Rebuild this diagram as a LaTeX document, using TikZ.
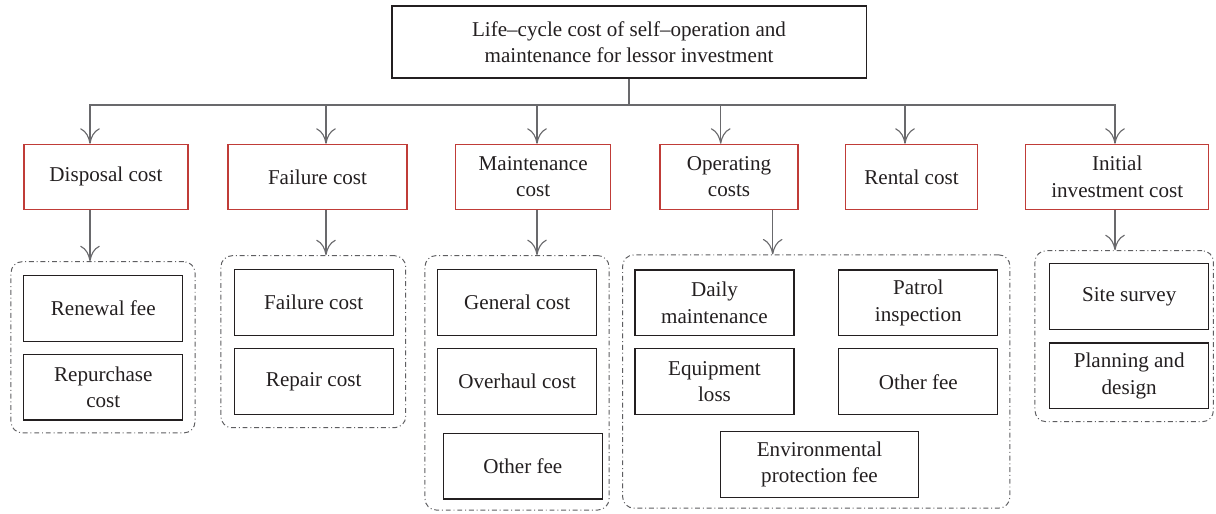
\documentclass[tikz,border=0pt]{standalone}
\usepackage{fontspec}
\setmainfont{Liberation Serif}
\usetikzlibrary{arrows.meta}
\definecolor{boxred}{RGB}{192,60,56}
\definecolor{linkgray}{RGB}{105,105,108}
\definecolor{textgray}{RGB}{35,31,32}
\tikzstyle{every node}=[font=\fontsize{15}{18.8}\selectfont, text=textgray, align=center]
\tikzstyle{root}=[draw=textgray, line width=0.8pt, minimum width=11.85cm, minimum height=1.8cm]
\tikzstyle{cost}=[draw=boxred, line width=0.8pt, minimum height=1.625cm, inner sep=2pt]
\tikzstyle{item}=[draw=textgray, line width=0.8pt, minimum width=3.975cm, minimum height=1.64cm, inner sep=2pt]
\tikzstyle{group}=[draw=linkgray!90!black, line width=0.7pt, rounded corners=8pt,
  dash pattern=on 3.5pt off 2pt on 0.7pt off 2pt]
\tikzstyle{link}=[draw=linkgray, line width=0.8pt]
\tikzstyle{arrowlink}=[link, -{Computer Modern Rightarrow[length=11pt,width=14pt]}]

\begin{document}
\begin{tikzpicture}[x=0.025cm, y=-0.025cm]
      \useasboundingbox (0,0) rectangle (1216,513);

      % top of the tree
      \node[root] (life) at (629, 42) {Life--cycle cost of self--operation and\\maintenance for lessor investment};
      \coordinate (bus) at (629, 105);

      % cost items
      \node[cost, minimum width=4.1cm] (disposal) at (106, 176.8) {Disposal cost};
      \node[cost, minimum width=4.475cm] (failure) at (317.5, 176.8) {Failure cost};
      \node[cost, minimum width=3.875cm] (maint) at (533.2, 176.8) {Maintenance\\cost};
      \node[cost, minimum width=3.45cm] (operating) at (729, 176.8) {Operating\\costs};
      \node[cost, minimum width=3.29cm] (rental) at (911.5, 176.8) {Rental cost};
      \node[cost, minimum width=4.575cm] (initial) at (1117.2, 176.8) {Initial\\investment cost};

      % dash-dotted groups
      \node[group, minimum width=4.6cm, minimum height=4.28cm] (disposal_g) at (103, 347.3) {};
      \node[group, minimum width=4.62cm, minimum height=4.3cm] (failure_g) at (313.3, 341.7) {};
      \node[group, minimum width=4.6cm, minimum height=6.36cm] (maint_g) at (517, 382.8) {};
      \node[group, minimum width=9.68cm, minimum height=6.33cm] (operating_g) at (816.3, 381.5) {};
      \node[group, minimum width=4.46cm, minimum height=4.275cm] (initial_g) at (1124.2, 336.2) {};

      % sub items
      \node[item] (renewal) at (103.3, 308.3) {Renewal fee};
      \node[item] (repurchase) at (103.3, 387.2) {Repurchase\\cost};
      \node[item] (failure_c) at (313.7, 302.7) {Failure cost};
      \node[item] (repair) at (313.7, 381.5) {Repair cost};
      \node[item] (general) at (517.2, 302.7) {General cost};
      \node[item] (overhaul) at (517.2, 381.5) {Overhaul cost};
      \node[item] (other_m) at (522.8, 466.2) {Other fee};
      \node[item] (daily) at (714.5, 302.8) {Daily\\maintenance};
      \node[item] (patrol) at (918.3, 302.8) {Patrol\\inspection};
      \node[item] (equipment) at (714.5, 381.7) {Equipment\\loss};
      \node[item] (other_o) at (918.3, 381.7) {Other fee};
      \node[item, minimum width=4.94cm] (environ) at (819.5, 464.7) {Environmental\\protection fee};
      \node[item] (site) at (1129.2, 296.3) {Site survey};
      \node[item] (planning) at (1129.2, 375.8) {Planning and\\design};

      % connectors
      \draw[link] (life.south) -- (bus);
      \foreach \n/\x in {disposal/90, failure/326, maint/537, operating/720.7, rental/905, initial/1115}
        \draw[arrowlink] (bus) -| (\n.north -| \x,0);
      \foreach \n/\x in {disposal/90, failure/326, maint/537, operating/772.7, initial/1115}
        \draw[arrowlink] (\n.south -| \x,0) -- (\n_g.north -| \x,0);
    \end{tikzpicture}
\end{document}
